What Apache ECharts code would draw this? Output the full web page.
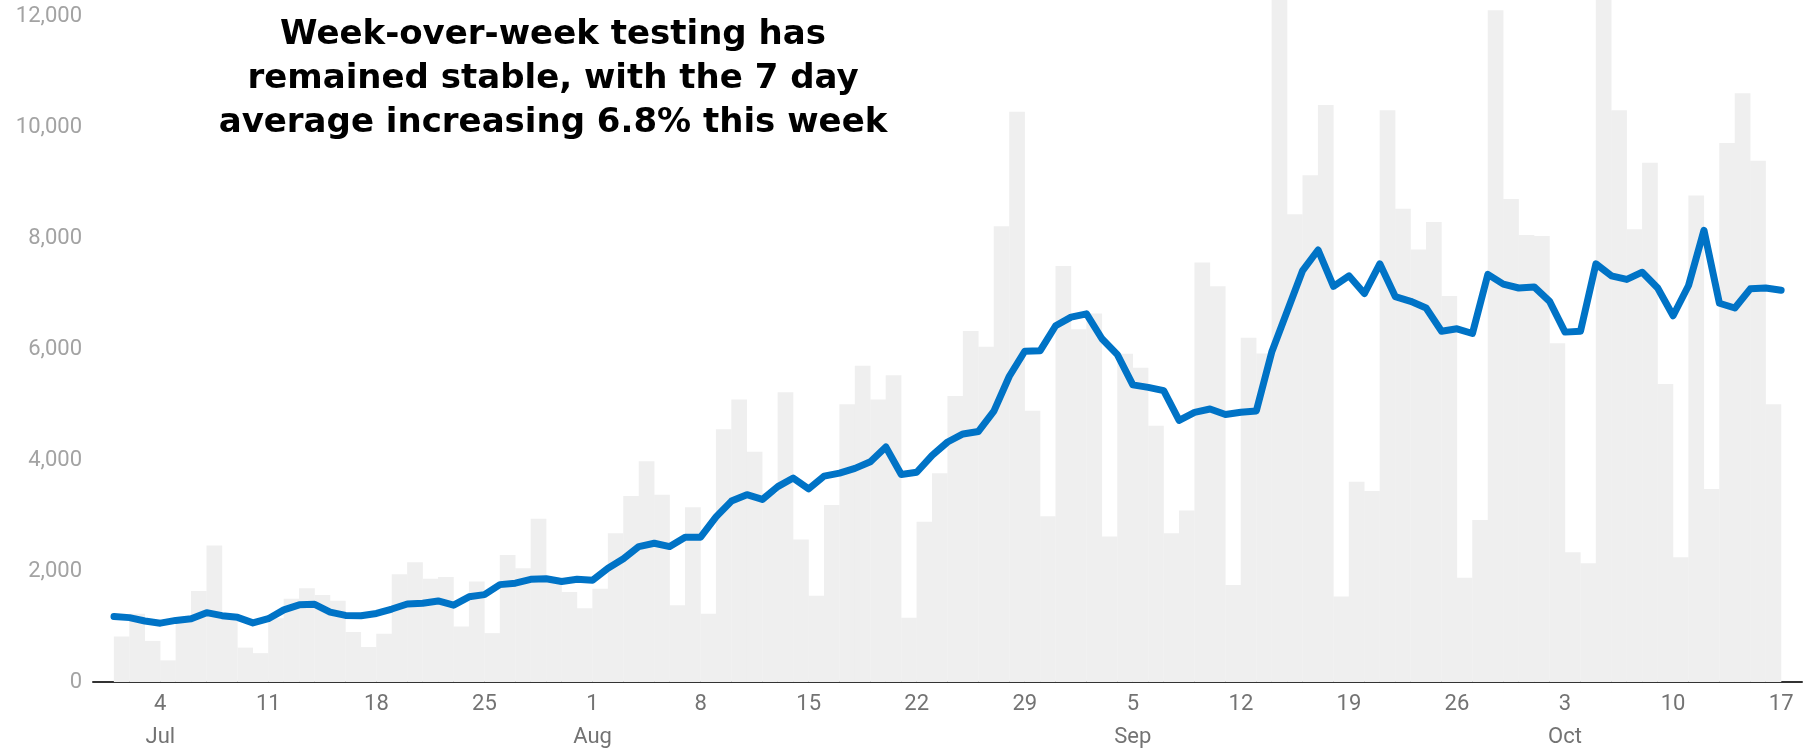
<!DOCTYPE html>
<html>
<head>
<meta charset="utf-8">
<title>Testing</title>
<script src="https://cdn.jsdelivr.net/npm/echarts@6/dist/echarts.min.js"></script>
<style>
  html, body { margin: 0; padding: 0; background: #fff; }
  #main { width: 1812px; height: 754px; }
</style>
</head>
<body>
<div id="main"></div>
<script>
// day 0 = Jul 1, bars cover one day each, line points sit on day boundaries
const dailyTests = [
  820, 1230, 740, 390, 1150, 1640, 2460, 1150, 620, 520,
  1150, 1500, 1690, 1570, 1465, 900, 630, 870, 1940, 2160,
  1860, 1890, 1000, 1810, 880, 2290, 2050, 2940, 1800, 1620,
  1330, 1680, 2680, 3350, 3980, 3375, 1385, 3150, 1230, 4555,
  5090, 4150, 3400, 5220, 2570, 1555, 3190, 5005, 5700, 5090,
  5530, 1160, 2890, 3760, 5155, 6325, 6040, 8215, 10275, 4890,
  2985, 7495, 6355, 6640, 2620, 5915, 5665, 4620, 2680, 3090,
  7560, 7130, 1750, 6205, 5920, 13500, 8430, 9130, 10400, 1540,
  3610, 3440, 10305, 8530, 7795, 8290, 6955, 1880, 2920, 12105,
  8705, 8055, 8035, 6105, 2340, 2140, 13000, 10305, 8160, 9355,
  5370, 2250, 8765, 3480, 9715, 10610, 9395, 5005
];

const sevenDayAvg = [
  1180, 1160, 1100, 1060, 1110, 1140, 1250, 1195, 1165, 1065,
  1140, 1300, 1390, 1400, 1260, 1200, 1195, 1235, 1315, 1405,
  1420, 1460, 1385, 1535, 1575, 1755, 1780, 1850, 1860, 1810,
  1850, 1835, 2050, 2220, 2440, 2500, 2440, 2610, 2610, 2975,
  3260, 3375, 3290, 3520, 3675, 3480, 3710, 3765, 3850, 3970,
  4235, 3740, 3780, 4085, 4325, 4470, 4515, 4880, 5510, 5960,
  5970, 6420, 6575, 6635, 6185, 5900, 5355, 5310, 5250, 4715,
  4860, 4920, 4820, 4860, 4885, 5945, 6680, 7415, 7785, 7130,
  7320, 7000, 7535, 6945, 6860, 6740, 6320, 6365, 6280, 7345,
  7170, 7100, 7120, 6860, 6305, 6320, 7535, 7320, 7255, 7385,
  7100, 6600, 7145, 8140, 6825, 6740, 7085, 7100, 7060
];

const tickDays = [3, 10, 17, 24, 31, 38, 45, 52, 59, 66, 73, 80, 87, 94, 101, 108];
const tickLabels = ['4\nJul', '11', '18', '25', '1\nAug', '8', '15', '22', '29',
                    '5\nSep', '12', '19', '26', '3\nOct', '10', '17'];

const title = 'Week-over-week testing has\nremained stable, with the 7 day\naverage increasing 6.8% this week';

const chart = echarts.init(document.getElementById('main'));

chart.setOption({
  animation: false,
  backgroundColor: '#ffffff',
  grid: { left: 93, right: 10, top: 0, bottom: 70 },
  graphic: [{
    type: 'text',
    x: 553,
    y: 13,
    z: 100,
    style: {
      text: title,
      align: 'center',
      verticalAlign: 'top',
      fill: '#000000',
      fontFamily: 'DejaVu Sans',
      fontWeight: 'bold',
      fontSize: 34,
      lineHeight: 44
    }
  }],
  xAxis: {
    type: 'value',
    min: -1.36,
    max: 109.35,
    splitLine: { show: false },
    axisTick: { show: false },
    axisLine: { show: true, onZero: false, lineStyle: { color: '#333333', width: 2 } },
    axisLabel: {
      customValues: tickDays,
      formatter: function (v) {
        const k = tickDays.indexOf(Math.round(v));
        return k >= 0 ? tickLabels[k] : '';
      },
      color: '#737373',
      fontFamily: 'Roboto',
      fontSize: 22,
      lineHeight: 33,
      margin: 6
    }
  },
  yAxis: {
    type: 'value',
    min: 0,
    max: 12290,
    interval: 2000,
    splitLine: { show: false },
    axisLine: { show: false },
    axisTick: { show: false },
    axisLabel: {
      showMaxLabel: false,
      color: '#a3a3a3',
      fontFamily: 'Roboto',
      fontSize: 22,
      margin: 11,
      formatter: function (v) { return v % 2000 === 0 ? v.toLocaleString('en-US') : ''; }
    }
  },
  series: [
    {
      name: 'Daily tests',
      type: 'bar',
      barWidth: 15.7,
      clip: true,
      itemStyle: { color: '#efefef' },
      data: dailyTests.map(function (v, i) { return [i + 0.5, v]; }),
      z: 1
    },
    {
      name: '7 day average',
      type: 'line',
      showSymbol: false,
      symbol: 'none',
      lineStyle: { color: '#0073c6', width: 7, join: 'round', cap: 'round' },
      data: sevenDayAvg.map(function (v, i) { return [i, v]; }),
      z: 3
    }
  ]
});
</script>
</body>
</html>
